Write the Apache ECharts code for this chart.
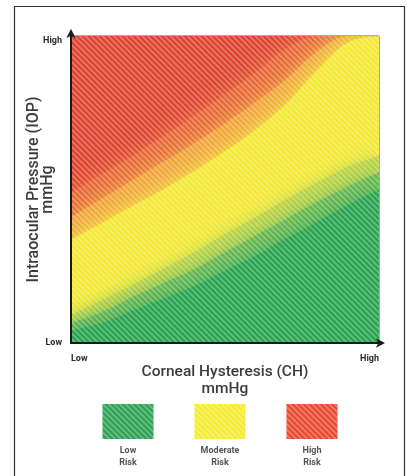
<!DOCTYPE html>
<html>
<head>
<meta charset="utf-8">
<script src="https://cdn.jsdelivr.net/npm/echarts@6/dist/echarts.min.js"></script>
<style>
html,body{margin:0;padding:0;background:#fff;}
#c{width:410px;height:476px;}
</style>
</head>
<body>
<div id="c"></div>
<script>
// ---- data (0 = Low, 100 = High) ----
var chX = [0, 10, 20, 30, 40, 50, 60, 70, 80, 90, 100];
// contour lines of the risk field (IOP level at each CH level)
var greenFull   = [4, 6.5, 10.5, 14.5, 18.5, 23.5, 28.5, 34, 39.5, 45, 50];
var greenYellow = [6.5, 10, 15, 19.5, 24, 29.5, 35, 40.5, 46, 51, 55.5];
var yellowStart = [9, 14, 19, 24.2, 29.5, 35.5, 41, 46.8, 52.3, 57.5, 61];
var yellowEnd   = [33.7, 39, 44.6, 50, 56, 62.5, 69.5, 78, 89, 98, 100];
var orangeMid   = [41, 47, 53, 59, 65, 71.5, 78.5, 86, 95, 100, 100];
var redFull     = [49, 55, 61, 67.4, 74, 81, 88.3, 96, 100, 100, 100];
var topLine     = [100, 100, 100, 100, 100, 100, 100, 100, 100, 100, 100];
var axisTicks   = {0: 'Low', 100: 'High'};
var legendCats  = ['Low\nRisk', 'Moderate\nRisk', 'High\nRisk'];
var legendVals  = [1, 1, 1];
var legendColors = ['#2aa150', '#f4ea2e', '#e8462f'];

var FONT = 'Roboto, "DejaVu Sans", sans-serif';
var stripe = {
  symbol: 'rect', symbolSize: 1,
  dashArrayX: [1, 0], dashArrayY: [1.3, 1.7],
  rotation: Math.PI / 4,
  color: 'rgba(255,255,255,0.28)'
};

function pts(arr) { return chX.map(function (x, i) { return [x, arr[i]]; }); }
function band(arr, color, blur) {
  return {
    type: 'line', data: pts(arr), smooth: 0.35,
    symbol: 'none', silent: true, xAxisIndex: 0, yAxisIndex: 0, z: 2,
    lineStyle: { width: 0 },
    areaStyle: { color: color, opacity: 1, shadowColor: color, shadowBlur: blur },
    clip: true
  };
}

var chart = echarts.init(document.getElementById('c'), null, { renderer: 'canvas' });
chart.setOption({
  animation: false,
  graphic: [{
    type: 'rect', shape: { x: 14.5, y: 6.5, width: 390, height: 480 },
    style: { fill: 'none', stroke: '#333', lineWidth: 1.2 }, z: -10
  }],
  grid: [
    { left: 71, top: 36, width: 308, height: 307, show: true, borderColor: '#555', borderWidth: 1, backgroundColor: 'transparent' },
    { left: 82, top: 404, width: 276, height: 35 }
  ],
  xAxis: [
    {
      type: 'value', gridIndex: 0, min: 0, max: 100, interval: 100, z: 20,
      axisLine: { show: true, lineStyle: { color: '#1a1a1a', width: 2 }, symbol: ['none', 'arrow'], symbolSize: [7, 9], symbolOffset: [0, 6] },
      axisTick: { show: false }, splitLine: { show: false },
      axisLabel: {
        margin: 11, fontFamily: FONT, fontWeight: 'bold', fontSize: 9, color: '#2a2a2a',
        alignMinLabel: 'left', alignMaxLabel: 'right',
        formatter: function (v) { return axisTicks[v] || ''; }
      },
      name: 'Corneal Hysteresis (CH)\nmmHg', nameLocation: 'middle', nameGap: 20, nameMoveOverlap: false,
      nameTextStyle: { fontFamily: FONT, fontWeight: 500, fontSize: 15.5, color: '#3c3c3c', lineHeight: 17.5 }
    },
    {
      type: 'category', gridIndex: 0, data: ['all'], show: false
    },
    {
      type: 'category', gridIndex: 1, data: legendCats,
      axisLine: { show: false }, axisTick: { show: false },
      axisLabel: { margin: 6, fontFamily: FONT, fontWeight: 'bold', fontSize: 9, color: '#555', lineHeight: 12 }
    }
  ],
  yAxis: [
    {
      type: 'value', gridIndex: 0, min: 0, max: 100, interval: 100, z: 20,
      axisLine: { show: true, lineStyle: { color: '#1a1a1a', width: 2 }, symbol: ['none', 'arrow'], symbolSize: [7, 9], symbolOffset: [0, 7] },
      axisTick: { show: false }, splitLine: { show: false },
      axisLabel: {
        margin: 9, fontFamily: FONT, fontWeight: 'bold', fontSize: 9, color: '#2a2a2a',
        verticalAlignMaxLabel: 'top',
        formatter: function (v) { return axisTicks[v] || ''; }
      },
      name: 'Intraocular Pressure (IOP)\nmmHg', nameLocation: 'middle', nameGap: 16, nameRotate: 90, nameMoveOverlap: false,
      nameTextStyle: { fontFamily: FONT, fontWeight: 500, fontSize: 16, color: '#3c3c3c', lineHeight: 14 }
    },
    {
      type: 'value', gridIndex: 1, min: 0, max: 1, show: false
    }
  ],
  series: [
    band(topLine, '#dd3d2a', 0),
    band(redFull, '#e6622e', 20),
    band(orangeMid, '#f0a032', 20),
    band(yellowEnd, '#f3e82d', 20),
    band(yellowStart, '#b9d23c', 16),
    band(greenYellow, '#62b649', 16),
    band(greenFull, '#22a04b', 16),
    {
      type: 'bar', xAxisIndex: 1, yAxisIndex: 0, data: [100], barWidth: '100%', silent: true, z: 10,
      itemStyle: { color: 'rgba(255,255,255,0.01)', decal: stripe }
    },
    {
      type: 'bar', xAxisIndex: 2, yAxisIndex: 1, data: legendVals.map(function (v, i) {
        return { value: v, itemStyle: { color: legendColors[i] } };
      }), barWidth: 51, silent: true,
      itemStyle: { decal: stripe }
    }
  ]
});
</script>
</body>
</html>
